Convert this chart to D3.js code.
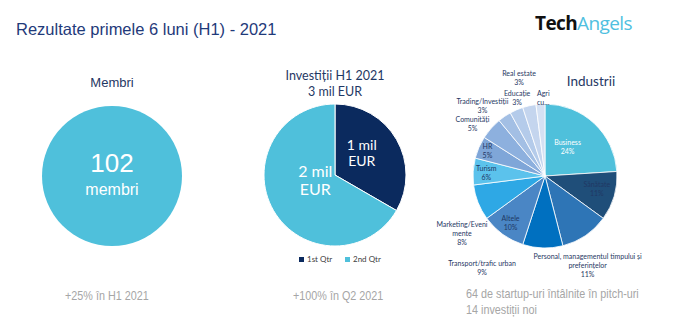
<!DOCTYPE html>
<html>
<head>
<meta charset="utf-8">
<script src="https://cdn.jsdelivr.net/npm/d3@7"></script>
<style>
  body { margin: 0; background: #fff; }
  svg { display: block; }
</style>
</head>
<body>
<svg id="chart" width="700" height="321"></svg>
<script>
// data
const members = [102];
const quarters = ["1st Qtr", "2nd Qtr"];
const quarterValues = [1, 2];
const quarterLabels = [["1 mil", "EUR"], ["2 mil", "EUR"]];
const industries = ["Business", "Sănătate", "Personal, managementul timpului și preferințelor",
  "Transport/trafic urban", "Altele", "Marketing/Evenimente", "Turism", "HR", "Comunități",
  "Trading/Investiții", "Educație", "Real estate", "Agricultură"];
const industryValues = [24, 11, 11, 9, 10, 8, 6, 5, 5, 3, 3, 3, 2];
const industryLabels = [
  ["Business", "24%"], ["Sănătate", "11%"],
  ["Personal, managementul timpului și", "preferințelor", "11%"],
  ["Transport/trafic urban", "9%"], ["Altele", "10%"],
  ["Marketing/Eveni", "mente", "8%"], ["Turism", "6%"], ["HR", "5%"],
  ["Comunități", "5%"], ["Trading/Investiții", "3%"], ["Educație", "3%"],
  ["Real estate", "3%"], ["Agri", "cu…"]];
const footnotes = [["+25% în H1 2021"], ["+100% în Q2 2021"],
  ["64 de startup-uri întâlnite în pitch-uri", "14 investiții noi"]];

// styles
const navy = "#1f3864";
const cyan = "#4fc0db";
const industryColors = ["#4fc0db", "#1f4e79", "#2e75b6", "#0070c0", "#4a86c5", "#2ea8e5",
  "#5bc2ec", "#7fa6d8", "#8db0de", "#a3bfe4", "#b4cbea", "#c4d5ee", "#d5e1f3"];
const quarterColors = ["#0b2a5e", cyan];
// label placement: [radius factor, dx, dy] relative to slice middle
const industryLabelPlace = [[0.62, -8, 4], [0.72, 2, -1], [1.3, -10, 12], [1.3, -60, -2],
  [0.72, -4, 5], [1.3, 4, 23], [0.72, -7, 0], [0.72, -10, -4], [1.25, -5, 8],
  [1.25, -12, 4], [1.15, 5, -2], [1.4, -4, 0], [1.05, 3, -3]];
const industryTextColor = ["#fff", navy, navy, navy, navy, navy, navy, navy, navy, navy, navy, navy, navy];

const svg = d3.select("#chart");
const calibri = "Lato, 'Open Sans', sans-serif";
const arial = "'Liberation Sans', Arial, sans-serif";

// title + logo
svg.append("text").attr("x", 16).attr("y", 35)
  .style("font-family", arial).style("font-size", "16.5px").style("fill", "#1f3a7a")
  .text("Rezultate primele 6 luni (H1) - 2021");
const logo = svg.append("text").attr("x", 535).attr("y", 30)
  .style("font-family", "'Open Sans', sans-serif").style("font-size", "19px").style("letter-spacing", "-0.6px");
logo.append("tspan").style("font-weight", "700").style("fill", "#111").text("Tech");
logo.append("tspan").style("font-weight", "400").style("fill", "#4fc0e0").text("Angels");

// Membri
const mCx = 112, mCy = 176, mR = 70;
const gM = svg.append("g").attr("transform", `translate(${mCx},${mCy})`);
gM.selectAll("path").data(d3.pie()(members)).join("path")
  .attr("d", d3.arc().innerRadius(0).outerRadius(mR)).attr("fill", cyan);
svg.append("text").attr("x", mCx).attr("y", 87).attr("text-anchor", "middle")
  .style("font-family", arial).style("font-size", "13px").style("fill", navy).text("Membri");
gM.append("text").attr("y", -4).attr("text-anchor", "middle")
  .style("font-family", arial).style("font-size", "26px").style("fill", "#fff").text(members[0]);
gM.append("text").attr("y", 19).attr("text-anchor", "middle")
  .style("font-family", arial).style("font-size", "16px").style("fill", "#fff").text("membri");

// Investitii
const iCx = 335, iCy = 175, iR = 71;
svg.append("text").attr("x", iCx).attr("y", 80).attr("text-anchor", "middle")
  .style("font-family", calibri).style("font-size", "12.5px").style("fill", navy).text("Investiții H1 2021");
svg.append("text").attr("x", iCx).attr("y", 96).attr("text-anchor", "middle")
  .style("font-family", calibri).style("font-size", "12.5px").style("fill", navy).text("3 mil EUR");
const gI = svg.append("g").attr("transform", `translate(${iCx},${iCy})`);
const qPie = d3.pie().sort(null)(quarterValues);
const qArc = d3.arc().innerRadius(0).outerRadius(iR);
gI.selectAll("path").data(qPie).join("path")
  .attr("d", qArc).attr("fill", (d, i) => quarterColors[i])
  .attr("stroke", "#fff").attr("stroke-width", 1);
const qNudge = [[-4, -4], [11, -12]];
gI.selectAll("text.ql").data(qPie).join("text").attr("class", "ql")
  .attr("transform", (d, i) => {
    const c = qArc.centroid(d);
    return `translate(${c[0] + qNudge[i][0]},${c[1] + qNudge[i][1]})`;
  })
  .attr("text-anchor", "middle")
  .style("font-family", calibri).style("fill", "#fff")
  .style("font-size", (d, i) => i === 0 ? "14px" : "16px")
  .each(function (d, i) {
    const lh = i === 0 ? 16 : 18;
    quarterLabels[i].forEach((t, j) => {
      d3.select(this).append("tspan").attr("x", 0)
        .attr("y", (j - (quarterLabels[i].length - 1) / 2) * lh + 5).text(t);
    });
  });
// legend
const legend = svg.append("g").attr("transform", "translate(299,262)");
const lx = d3.scalePoint().domain(quarters).range([0, 46]);
quarters.forEach((q, i) => {
  legend.append("rect").attr("x", lx(q)).attr("y", -5).attr("width", 5).attr("height", 5)
    .attr("fill", quarterColors[i]);
  legend.append("text").attr("x", lx(q) + 8).attr("y", 0)
    .style("font-family", calibri).style("font-size", "8px").style("fill", "#404040").text(q);
});

// Industrii
const nCx = 545, nCy = 176, nR = 72;
svg.append("text").attr("x", 591).attr("y", 86).attr("text-anchor", "middle")
  .style("font-family", calibri).style("font-size", "13.5px").style("fill", navy).text("Industrii");
const gN = svg.append("g").attr("transform", `translate(${nCx},${nCy})`);
const nPie = d3.pie().sort(null)(industryValues);
gN.selectAll("path").data(nPie).join("path")
  .attr("d", d3.arc().innerRadius(0).outerRadius(nR))
  .attr("fill", (d, i) => industryColors[i])
  .attr("stroke", "#fff").attr("stroke-width", 0.8);
gN.selectAll("text.nl").data(nPie).join("text").attr("class", "nl")
  .attr("transform", (d, i) => {
    const [k, dx, dy] = industryLabelPlace[i];
    const c = d3.arc().innerRadius(nR * k).outerRadius(nR * k).centroid(d);
    return `translate(${c[0] + dx},${c[1] + dy})`;
  })
  .attr("text-anchor", "middle")
  .style("font-family", calibri).style("font-size", "7px")
  .style("fill", (d, i) => industryTextColor[i])
  .each(function (d, i) {
    const lines = industryLabels[i];
    lines.forEach((t, j) => {
      d3.select(this).append("tspan").attr("x", 0)
        .attr("y", (j - (lines.length - 1) / 2) * 9 + 2.5).text(t);
    });
  });

// footnotes (narrow grey text)
const fx = [65, 293, 466];
const fy = [300, 300, 298];
footnotes.forEach((lines, i) => {
  lines.forEach((t, j) => {
    svg.append("text")
      .attr("transform", `translate(${fx[i]},${fy[i] + j * 16}) scale(0.9,1)`)
      .style("font-family", arial)
      .style("font-size", "12px").style("fill", "#a6a6a6").text(t);
  });
});
</script>
</body>
</html>
